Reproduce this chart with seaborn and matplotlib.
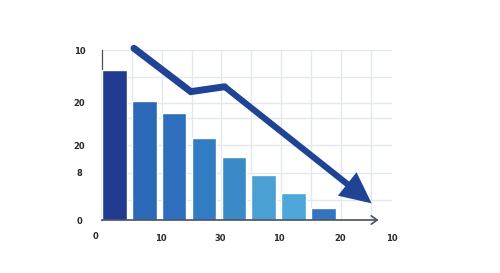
import matplotlib
matplotlib.use("Agg")
import matplotlib.pyplot as plt
import seaborn as sns
import pandas as pd

# ---- data ----
categories = ["A", "B", "C", "D", "E", "F", "G", "H"]
values = [88.2, 70.2, 62.7, 48.4, 36.9, 26.5, 16.1, 6.9]
bar_colors = ["#213a8f", "#2c68b8", "#2d6fbc", "#327cc3", "#3a8ac8",
              "#4a9fd3", "#4ea6da", "#3473c0"]
ytick_pos = [0, 27.8, 44.1, 69.0, 100.0]
ytick_labels = ["0", "8", "20", "20", "10"]
xtick_pos = [1.55, 3.55, 5.5, 7.55, 9.28]
xtick_labels = ["10", "30", "10", "20", "10"]
xzero_label = "0"
hgrid = [11.8, 27.8, 44.1, 59.8, 69.0, 84.4, 100.0]
trend_x = [0.66, 2.56, 3.69]
trend_y = [101.0, 75.5, 78.4]
arrow_tip = (8.6, 9.8)

sns.set_theme(style="white")
plt.rcParams['font.family'] = ['DejaVu Sans']

fig = plt.figure(figsize=(5.0, 2.73), dpi=100)
ax = fig.add_axes([101.7/500, 1 - 220/273, (392 - 101.7)/500, 170/273])

df = pd.DataFrame({"cat": categories, "val": values})
sns.barplot(data=df, x="cat", y="val", hue="cat", palette=bar_colors,
            width=0.83, legend=False, ax=ax, zorder=3, saturation=1)

ax.set_xlim(-0.417, 9.26)
ax.set_ylim(0, 100)

# grid
for g in hgrid:
    ax.axhline(g, color="#e3e8ef", lw=1.0, zorder=1)
for k in range(1, 10):
    ax.axvline(-0.417 + k, color="#e3e8ef", lw=1.0, zorder=1, ymax=1.0)

# spines
for s in ["top", "right"]:
    ax.spines[s].set_visible(False)
ax.spines["left"].set_color("#4a4f5c")
ax.spines["left"].set_linewidth(0.9)
ax.spines["bottom"].set_visible(False)
ax.annotate("", xy=(8.83, 0), xytext=(-0.417, 0),
            arrowprops=dict(arrowstyle="->,head_length=0.35,head_width=0.25",
                            color="#4a4f5c", lw=1.2, shrinkA=0, shrinkB=0),
            annotation_clip=False, zorder=5)

ax.set_yticks(ytick_pos)
ax.set_yticklabels(ytick_labels, fontsize=6, fontweight="bold",
                   color="#2a2a2a", ha="center")
ax.tick_params(axis="y", length=0, pad=16)
ax.set_xticks(xtick_pos)
ax.set_xticklabels(xtick_labels, fontsize=6, fontweight="bold", color="#2a2a2a")
ax.tick_params(axis="x", length=0, pad=10)
ax.text(-0.64, -9.8, xzero_label, fontsize=6, fontweight="bold",
        color="#2a2a2a", ha="center", va="center", clip_on=False)
ax.set_xlabel("")
ax.set_ylabel("")

# trend arrow
arrow_color = "#1f4496"
ax.plot(trend_x, trend_y, color=arrow_color, lw=5, solid_capstyle="round",
        solid_joinstyle="miter", zorder=6, clip_on=False)
ax.annotate("", xy=arrow_tip, xytext=(trend_x[-1], trend_y[-1]),
            arrowprops=dict(arrowstyle="-|>,head_length=1.5,head_width=0.72",
                            mutation_scale=10, color=arrow_color, lw=4.5,
                            shrinkA=0, shrinkB=0, joinstyle="miter",
                            capstyle="butt"),
            annotation_clip=False, zorder=6)

fig.savefig("out.png", dpi=100, facecolor="white")
